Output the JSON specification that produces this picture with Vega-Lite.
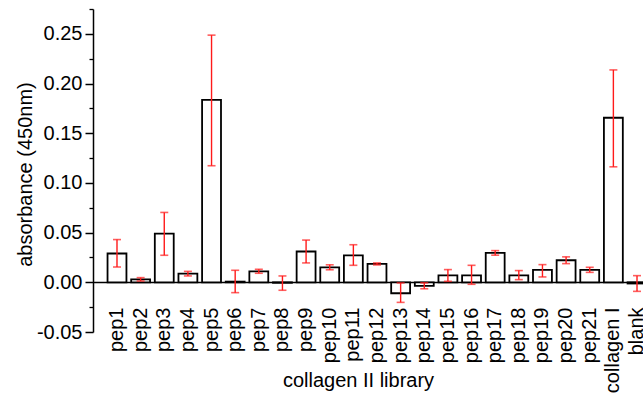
{
  "$schema": "https://vega.github.io/schema/vega-lite/v6.json",
  "autosize": "none",
  "width": 550,
  "height": 323,
  "padding": {"left": 93, "top": 9, "right": 0, "bottom": 63},
  "background": "white",
  "config": {
    "view": {"stroke": null},
    "font": "Liberation Sans",
    "axis": {"grid": false, "labelFont": "Liberation Sans", "titleFont": "Liberation Sans", "labelColor": "black", "titleColor": "black", "domainColor": "black", "tickColor": "black"}
  },
  "data": {"values": [
    {"sample": "pep1", "value": 0.029, "lo": 0.0154, "hi": 0.043},
    {"sample": "pep2", "value": 0.003, "lo": 0.0013, "hi": 0.0047},
    {"sample": "pep3", "value": 0.049, "lo": 0.0272, "hi": 0.0703},
    {"sample": "pep4", "value": 0.0087, "lo": 0.0064, "hi": 0.011},
    {"sample": "pep5", "value": 0.1835, "lo": 0.1173, "hi": 0.2487},
    {"sample": "pep6", "value": 0.0007, "lo": -0.0104, "hi": 0.0121},
    {"sample": "pep7", "value": 0.0111, "lo": 0.0091, "hi": 0.0131},
    {"sample": "pep8", "value": -0.0005, "lo": -0.008, "hi": 0.0064},
    {"sample": "pep9", "value": 0.031, "lo": 0.0195, "hi": 0.0425},
    {"sample": "pep10", "value": 0.0151, "lo": 0.0126, "hi": 0.0176},
    {"sample": "pep11", "value": 0.0272, "lo": 0.0171, "hi": 0.0378},
    {"sample": "pep12", "value": 0.0185, "lo": 0.0175, "hi": 0.0195},
    {"sample": "pep13", "value": -0.011, "lo": -0.0202, "hi": -0.0006},
    {"sample": "pep14", "value": -0.0035, "lo": -0.0065, "hi": -0.0005},
    {"sample": "pep15", "value": 0.007, "lo": 0.001, "hi": 0.0128},
    {"sample": "pep16", "value": 0.007, "lo": -0.002, "hi": 0.0171},
    {"sample": "pep17", "value": 0.0296, "lo": 0.0273, "hi": 0.0319},
    {"sample": "pep18", "value": 0.007, "lo": 0.0027, "hi": 0.0118},
    {"sample": "pep19", "value": 0.0125, "lo": 0.0054, "hi": 0.0178},
    {"sample": "pep20", "value": 0.0222, "lo": 0.0188, "hi": 0.0256},
    {"sample": "pep21", "value": 0.0125, "lo": 0.01, "hi": 0.0151},
    {"sample": "collagen I", "value": 0.1656, "lo": 0.1162, "hi": 0.2137},
    {"sample": "blank", "value": -0.0012, "lo": -0.0091, "hi": 0.0067}
  ]},
  "encoding": {
    "x": {
      "field": "sample", "type": "nominal", "sort": null,
      "scale": {"range": [0, 568], "paddingInner": 0.2, "paddingOuter": 0.615},
      "axis": {
        "orient": "bottom", "offset": -50, "ticks": false,
        "domainWidth": 1.5, "labelAngle": 270, "labelAlign": "right", "labelBaseline": "middle",
        "labelFontSize": 20, "labelPadding": 25, "labelOverlap": false, "labelBound": false, "labelFlush": false,
        "title": "collagen II library", "titleFontSize": 20, "titleFontWeight": "normal",
        "titleX": 265, "titleY": 104, "titleBaseline": "alphabetic", "titleAlign": "center"
      }
    }
  },
  "layer": [
    {
      "mark": {"type": "bar", "fill": "white", "stroke": "black", "strokeWidth": 1.8},
      "encoding": {
        "y": {
          "field": "value", "type": "quantitative",
          "scale": {"domain": [-0.05, 0.275], "nice": false, "zero": false},
          "axis": {
            "orient": "left", "values": [-0.05, 0, 0.05, 0.1, 0.15, 0.2, 0.25],
            "labelExpr": "replace(format(datum.value, '.2f'), '\u2212', '-')",
            "labelFontSize": 20, "tickSize": 8, "tickWidth": 1.5, "domainWidth": 1.5, "labelPadding": 3,
            "title": "absorbance (450nm)", "titleFontSize": 20, "titleFontWeight": "normal",
            "titleX": -68, "titleY": 165, "titleAngle": 270, "titleAlign": "center", "titleBaseline": "middle"
          }
        }
      }
    },
    {
      "mark": {"type": "rule", "color": "#ff1a1a", "strokeWidth": 1.4},
      "encoding": {
        "y": {
          "field": "lo", "type": "quantitative",
          "axis": {"orient": "left", "values": [-0.025, 0.025, 0.075, 0.125, 0.175, 0.225, 0.275], "labels": false, "domain": false, "tickSize": 4, "tickWidth": 1.3, "title": null}
        },
        "y2": {"field": "hi"}
      }
    },
    {
      "mark": {"type": "tick", "color": "#ff1a1a", "size": 8, "thickness": 1.6},
      "encoding": {"y": {"field": "lo", "type": "quantitative", "axis": null}}
    },
    {
      "mark": {"type": "tick", "color": "#ff1a1a", "size": 8, "thickness": 1.6},
      "encoding": {"y": {"field": "hi", "type": "quantitative", "axis": null}}
    }
  ],
  "resolve": {"axis": {"y": "independent"}}
}
